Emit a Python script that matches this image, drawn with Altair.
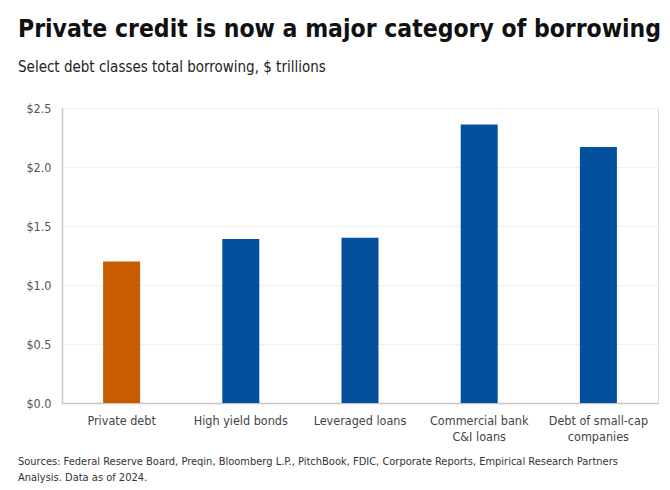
import altair as alt
import pandas as pd

categories = ["Private debt", "High yield bonds", "Leveraged loans",
              "Commercial bank C&I loans", "Debt of small-cap companies"]
values = [1.20, 1.39, 1.40, 2.36, 2.17]
highlight = [True, False, False, False, False]

title_text = "Private credit is now a major category of borrowing"
subtitle_text = "Select debt classes total borrowing, $ trillions"
footer_lines = ["Sources: Federal Reserve Board, Preqin, Bloomberg L.P., PitchBook, FDIC, Corporate Reports, Empirical Research Partners",
                "Analysis. Data as of 2024."]

df = pd.DataFrame({"category": categories, "value": values, "hl": highlight})

FONT = "Liberation Sans Narrow, DejaVu Sans Condensed, Roboto, sans-serif"
W, H = 596, 295

label_expr = ("datum.label == 'Commercial bank C&I loans' ? ['Commercial bank', 'C&I loans'] : "
              "datum.label == 'Debt of small-cap companies' ? ['Debt of small-cap', 'companies'] : datum.label")

bars = alt.Chart(df).mark_bar(size=37).encode(
    x=alt.X("category:N", sort=categories, title=None,
            scale=alt.Scale(paddingInner=0.69, paddingOuter=0.345),
            axis=alt.Axis(labelAngle=0, labelExpr=label_expr, ticks=False,
                          domainColor="#c8c8c8", domainWidth=1.5,
                          labelPadding=11, labelFontSize=12.5, labelColor="#444444",
                          labelFont=FONT, labelLineHeight=16)),
    y=alt.Y("value:Q", title=None,
            scale=alt.Scale(domain=[0, 2.5], nice=False),
            axis=alt.Axis(values=[0, 0.5, 1.0, 1.5, 2.0, 2.5], format="$.1f", ticks=False,
                          domainColor="#c8c8c8", domainWidth=1.5,
                          gridColor="#f0f0f0", labelPadding=11,
                          labelFontSize=12.5, labelColor="#555555", labelFont=FONT)),
    color=alt.Color("hl:N", scale=alt.Scale(domain=[True, False], range=["#C85C00", "#03509E"]),
                    legend=None),
)

footer = alt.Chart(pd.DataFrame({"t": [footer_lines]})).mark_text(
    align="left", baseline="middle", font=FONT, fontSize=11, color="#333333", lineHeight=16
).encode(x=alt.value(-44), y=alt.value(H + 59), text="t")

chart = alt.layer(bars, footer).properties(
    width=W, height=H,
    autosize=alt.AutoSizeParams(type="none"),
    title=alt.TitleParams(title_text, subtitle=subtitle_text, anchor="start", frame="group",
                          dx=-44, offset=26, font=FONT, fontSize=24.5, fontWeight="bold",
                          color="#111111", subtitleFont=FONT, subtitleFontSize=15,
                          subtitleColor="#222222", subtitlePadding=18),
    padding={"left": 54, "top": 100, "right": 4, "bottom": 80},
).configure_view(stroke=None).configure(background="white")

chart.save("out.html", embed_options={"renderer": "svg", "actions": False})
